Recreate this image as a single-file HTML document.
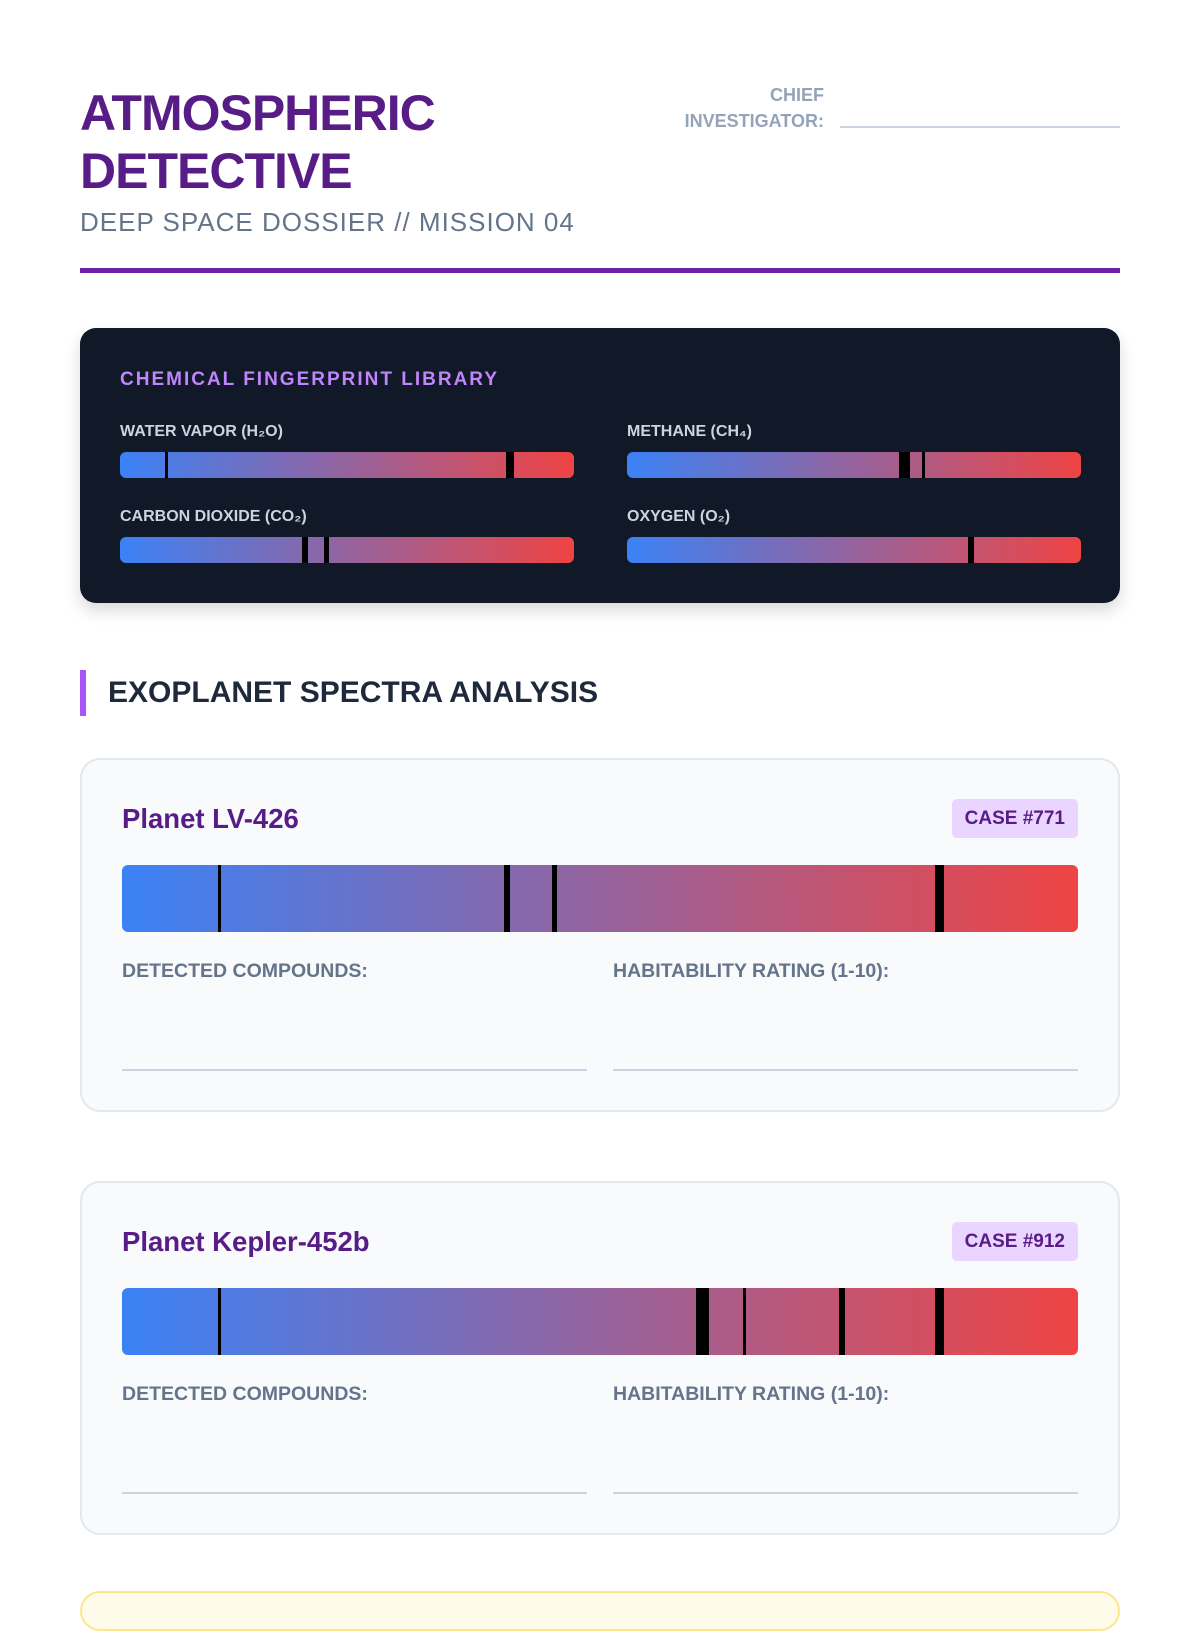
<!DOCTYPE html>
<html><head><meta charset="utf-8">
<style>
*{box-sizing:border-box;margin:0;padding:0}
body{width:1200px;height:1600px;overflow:hidden;background:#fff;font-family:"Liberation Sans","DejaVu Sans",sans-serif;position:relative}
.abs{position:absolute}
.t1{left:80px;font-size:50px;font-weight:900;color:#581c87;letter-spacing:-1px;line-height:50px}
.sub{left:80px;top:207px;font-size:26px;color:#64748b;letter-spacing:1px}
.rule{left:80px;top:268px;width:1040px;height:5px;background:#6b21a8}
.ci{right:376px;top:82px;text-align:right;font-size:18px;font-weight:bold;color:#94a3b8;line-height:26px}
.ciline{left:840px;top:126px;width:280px;height:2px;background:#cbd5e1}
.panel{left:80px;top:328px;width:1040px;height:275px;background:#111827;border-radius:16px;box-shadow:0 8px 16px rgba(0,0,0,.15)}
.ptitle{left:120px;top:369px;font-size:19px;font-weight:bold;color:#c084fc;letter-spacing:2px}
.lab{font-size:16px;font-weight:bold;color:#cbd5e1}
.sb{height:26px;border-radius:6px;background:linear-gradient(90deg,#3b82f6,#ef4444);overflow:hidden}
.ln{position:absolute;top:0;height:100%;background:#000}
.h2bar{left:80px;top:670px;width:6px;height:46px;background:#a855f7}
.h2{left:108px;top:676px;font-size:30px;font-weight:bold;color:#1e293b}
.card{left:80px;width:1040px;height:354px;background:#f8fafc;border:2px solid #e2e8f0;border-radius:20px}
.pn{left:40px;top:43px;font-size:27.5px;font-weight:bold;color:#581c87}
.case{right:40px;top:39px;height:39px;padding:0 13px;background:#e9d5ff;color:#581c87;font-weight:bold;font-size:19px;line-height:39px;border-radius:5px}
.big{left:40px;top:105px;width:956px;height:67px;border-radius:6px;background:linear-gradient(90deg,#3b82f6,#ef4444);overflow:hidden}
.fl{top:200px;font-size:19.5px;font-weight:bold;color:#64748b}
.fline{top:309px;width:465px;height:2px;background:#cbd5e1}
</style></head><body>
<div class="abs t1" style="top:88px">ATMOSPHERIC</div>
<div class="abs t1" style="top:146px">DETECTIVE</div>
<div class="abs sub">DEEP SPACE DOSSIER // MISSION 04</div>
<div class="abs rule"></div>
<div class="abs ci">CHIEF<br>INVESTIGATOR:</div>
<div class="abs ciline"></div>

<div class="abs panel"></div>
<div class="abs ptitle">CHEMICAL FINGERPRINT LIBRARY</div>
<div class="abs lab" style="left:120px;top:423px">WATER VAPOR (H₂O)</div>
<div class="abs sb" style="left:120px;top:452px;width:454px"><div class="ln" style="left:10%;width:3px"></div><div class="ln" style="left:85%;width:8px"></div></div>
<div class="abs lab" style="left:627px;top:423px">METHANE (CH₄)</div>
<div class="abs sb" style="left:627px;top:452px;width:454px"><div class="ln" style="left:60%;width:11px"></div><div class="ln" style="left:65%;width:3px"></div></div>
<div class="abs lab" style="left:120px;top:508px">CARBON DIOXIDE (CO₂)</div>
<div class="abs sb" style="left:120px;top:537px;width:454px"><div class="ln" style="left:40%;width:6px"></div><div class="ln" style="left:45%;width:5px"></div></div>
<div class="abs lab" style="left:627px;top:508px">OXYGEN (O₂)</div>
<div class="abs sb" style="left:627px;top:537px;width:454px"><div class="ln" style="left:75%;width:6px"></div></div>

<div class="abs h2bar"></div>
<div class="abs h2">EXOPLANET SPECTRA ANALYSIS</div>

<div class="abs card" style="top:758px">
<div class="abs pn">Planet LV-426</div>
<div class="abs case">CASE #771</div>
<div class="abs big"><div class="ln" style="left:10%;width:3px"></div><div class="ln" style="left:40%;width:6px"></div><div class="ln" style="left:45%;width:5px"></div><div class="ln" style="left:85%;width:9px"></div></div>
<div class="abs fl" style="left:40px">DETECTED COMPOUNDS:</div>
<div class="abs fl" style="left:531px">HABITABILITY RATING (1-10):</div>
<div class="abs fline" style="left:40px"></div>
<div class="abs fline" style="left:531px"></div>
</div>

<div class="abs card" style="top:1181px">
<div class="abs pn">Planet Kepler-452b</div>
<div class="abs case">CASE #912</div>
<div class="abs big"><div class="ln" style="left:10%;width:3px"></div><div class="ln" style="left:60%;width:13px"></div><div class="ln" style="left:65%;width:3px"></div><div class="ln" style="left:75%;width:6px"></div><div class="ln" style="left:85%;width:9px"></div></div>
<div class="abs fl" style="left:40px">DETECTED COMPOUNDS:</div>
<div class="abs fl" style="left:531px">HABITABILITY RATING (1-10):</div>
<div class="abs fline" style="left:40px"></div>
<div class="abs fline" style="left:531px"></div>
</div>

<div class="abs" style="left:80px;top:1591px;width:1040px;height:40px;background:#fffbeb;border:2px solid #fde68a;border-radius:20px"></div>
</body></html>
